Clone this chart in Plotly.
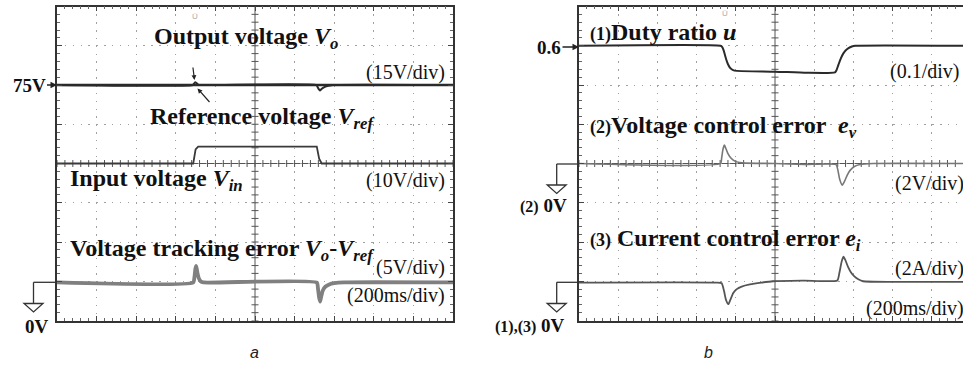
import numpy as np
import plotly.graph_objects as go

W, H = 963, 365

# ---------------- Panel a (time in ms, 200 ms/div) ----------------
t_vo = [0, 686, 692, 698, 704, 712, 720, 1310, 1316, 1322, 1328, 1336, 1348, 1365, 1394, 2000]
vo = [75, 75, 75.5, 76.1, 75.8, 75.2, 75, 75, 74.2, 73.4, 72.9, 73.5, 74.1, 74.6, 75, 75]
t_vref = [0, 2000]
vref = [75, 75]
t_vin = [0, 688, 700, 713, 1312, 1324, 1337, 2000]
vin = [40, 40, 43.6, 44.3, 44.3, 41.2, 40, 40]
t_err = [0, 688, 694, 699, 703, 709, 716, 725, 740, 1312, 1318, 1324, 1329, 1334, 1342, 1355, 1375, 1400, 1450, 2000]
err = [-0.15, -0.15, 0.5, 1.6, 1.95, 1.1, 0.4, 0.0, -0.15, -0.15, -0.9, -2.1, -2.6, -2.0, -1.2, -0.7, -0.4, -0.25, -0.15, -0.15]

# ---------------- Panel b ----------------
t_duty = [0, 722, 730, 738, 746, 754, 762, 772, 786, 805, 1000, 1162, 1306, 1314, 1324, 1336, 1348, 1360, 1375, 1392, 1410, 1960]
duty = [0.600, 0.600, 0.597, 0.588, 0.574, 0.561, 0.551, 0.543, 0.538, 0.536, 0.534, 0.531, 0.532, 0.538, 0.552, 0.568, 0.580, 0.588, 0.594, 0.598, 0.600, 0.600]
t_ve = [0, 722, 728, 735, 742, 750, 760, 775, 795, 820, 850, 1000, 1150, 1312, 1320, 1330, 1343, 1355, 1368, 1383, 1405, 1434, 1500, 1960]
ve = [0, 0, 0.3, 0.75, 0.94, 0.75, 0.5, 0.28, 0.12, 0.05, 0.02, 0, -0.05, -0.06, -0.3, -0.8, -1.1, -0.9, -0.6, -0.35, -0.15, -0.05, 0, 0]
t_ei = [0, 700, 728, 740, 750, 762, 772, 787, 805, 830, 872, 930, 990, 1150, 1318, 1328, 1340, 1349, 1358, 1372, 1388, 1405, 1425, 1449, 1600, 1960]
ei = [-0.07, -0.07, -0.1, -0.5, -0.95, -1.17, -0.95, -0.6, -0.4, -0.27, -0.16, -0.07, 0.0, 0.03, 0.04, 0.4, 1.0, 1.25, 1.1, 0.75, 0.45, 0.25, 0.1, 0.0, -0.03, -0.03]

DIV_T = 200   # ms per division
LINE = '#2a2a2a'

fig = go.Figure()


def trace(tx, ty, xa, ya, color, width, shape='spline'):
    fig.add_trace(go.Scatter(
        x=tx, y=ty, xaxis=xa, yaxis=ya, mode='lines',
        line=dict(color=color, width=width, shape=shape,
                  smoothing=0.5 if shape == 'spline' else None),
        hoverinfo='skip', showlegend=False))


# reticle center-line tick marks (decoration on the grid axes)
def center_ticks(xa, ya, xmax):
    tx = np.arange(0, xmax + 1e-6, DIV_T / 5)
    fig.add_trace(go.Scatter(x=tx, y=[4] * len(tx), xaxis=xa, yaxis=ya, mode='markers',
                             marker=dict(symbol='line-ns', size=5, line=dict(color='#555', width=1)),
                             hoverinfo='skip', showlegend=False))
    ty = np.arange(0, 8 + 1e-6, 0.2)
    fig.add_trace(go.Scatter(x=[1000] * len(ty), y=ty, xaxis=xa, yaxis=ya, mode='markers',
                             marker=dict(symbol='line-ew', size=5, line=dict(color='#555', width=1)),
                             hoverinfo='skip', showlegend=False))


center_ticks('x', 'y', 2000)
center_ticks('x2', 'y5', 1959.2)

# panel a traces
trace(t_vin, vin, 'x', 'y3', '#3a3a3a', 1.8, 'linear')
trace(t_err, err, 'x', 'y4', '#808080', 3.8)
trace(t_vref, vref, 'x', 'y2', LINE, 2.6, 'linear')
trace(t_vo, vo, 'x', 'y2', LINE, 2.0)
# panel b traces
trace(t_duty, duty, 'x2', 'y6', LINE, 2.0)
trace(t_ve, ve, 'x2', 'y7', '#777777', 1.6)
trace(t_ei, ei, 'x2', 'y8', '#555555', 1.8)

# ---------------- axes ----------------
ydom = [1 - 320.5 / H, 1 - 6.5 / H]
base = dict(showgrid=True, gridcolor='#a0a0a0', gridwidth=1, griddash='1.5px,6.35px',
            zeroline=False, showticklabels=False, ticks='inside', ticklen=5,
            tickcolor='#444', tickwidth=1, showline=True, linecolor='#333', linewidth=1.5)
xkw = dict(base, dtick=DIV_T, tick0=0,
           minor=dict(ticks='inside', ticklen=3, tickcolor='#666', dtick=DIV_T / 5, showgrid=False))
ykw = dict(base, dtick=1, tick0=0,
           minor=dict(ticks='inside', ticklen=3, tickcolor='#666', dtick=0.2, showgrid=False))

fig.update_layout(
    xaxis=dict(xkw, domain=[57 / W, 453 / W], range=[0, 2000], anchor='y', mirror='ticks'),
    yaxis=dict(ykw, domain=ydom, range=[0, 8], anchor='x', mirror='ticks'),
    yaxis2=dict(overlaying='y', anchor='x', range=[75 - 6 * 15, 75 + 2 * 15], visible=False),
    yaxis3=dict(overlaying='y', anchor='x', range=[0, 80], visible=False),
    yaxis4=dict(overlaying='y', anchor='x', range=[-5, 35], visible=False),
    xaxis2=dict(xkw, domain=[579 / W, 1.0], range=[0, 1959.2], anchor='y5', mirror='ticks'),
    yaxis5=dict(ykw, domain=ydom, range=[0, 8], anchor='x2', mirror=False),
    yaxis6=dict(overlaying='y5', anchor='x2', range=[-0.1, 0.7], visible=False),
    yaxis7=dict(overlaying='y5', anchor='x2', range=[-8, 8], visible=False),
    yaxis8=dict(overlaying='y5', anchor='x2', range=[-2, 14], visible=False),
)

# ---------------- shapes: center lines & ground symbols ----------------
shapes = []
for xr, yr, xmax in [('x', 'y', 2000), ('x2', 'y5', 1959.2)]:
    shapes.append(dict(type='line', xref=xr, yref=yr, x0=1000, x1=1000, y0=0, y1=8,
                       line=dict(color='#555', width=1), layer='below'))
    shapes.append(dict(type='line', xref=xr, yref=yr, x0=0, x1=xmax, y0=4, y1=4,
                       line=dict(color='#555', width=1), layer='below'))


def px(x):
    return x / W


def py(y):
    return 1 - y / H


def ground(xv, yline, xend, ytri):
    s = []
    s.append(dict(type='line', xref='paper', yref='paper', x0=px(xv), x1=px(xend), y0=py(yline), y1=py(yline),
                  line=dict(color='#333', width=1.3)))
    s.append(dict(type='line', xref='paper', yref='paper', x0=px(xv), x1=px(xv), y0=py(yline), y1=py(ytri),
                  line=dict(color='#333', width=1.3)))
    path = 'M {} {} L {} {} L {} {} Z'.format(px(xv - 9.5), py(ytri), px(xv + 9.5), py(ytri), px(xv), py(ytri + 8.5))
    s.append(dict(type='path', xref='paper', yref='paper', path=path, line=dict(color='#333', width=1.3),
                  fillcolor='white'))
    return s


shapes += ground(33.5, 282.3, 57, 303.5)
shapes += ground(556.7, 164, 579, 185)
shapes += ground(556.7, 282.3, 579, 303.5)
fig.update_layout(shapes=shapes)

# ---------------- annotations ----------------
SERIF = 'Liberation Serif'
ann = []


def text(x, y, s, size=24, xanchor='left', family=SERIF, color='#111'):
    ann.append(dict(x=px(x), y=py(y), xref='paper', yref='paper', text=s, showarrow=False,
                    xanchor=xanchor, yanchor='middle', font=dict(family=family, size=size, color=color)))


def arrow(xh, yh, ax, ay, s='', size=18, width=1.3, head=2, hs=1.0):
    ann.append(dict(x=px(xh), y=py(yh), xref='paper', yref='paper', text=s, showarrow=True,
                    ax=ax, ay=ay, arrowhead=head, arrowsize=hs, arrowwidth=width, arrowcolor='#222',
                    font=dict(family=SERIF, size=size, color='#111')))


# panel a
text(246, 38, '<b>Output voltage <i>V</i><sub><i>o</i></sub></b>', xanchor='center')
text(262, 118, '<b>Reference voltage <i>V</i><sub><i>ref</i></sub></b>', xanchor='center')
text(68, 180, '<b>Input voltage <i>V</i><sub><i>in</i></sub></b>')
text(68, 250, '<b>Voltage tracking error <i>V</i><sub><i>o</i></sub>-<i>V</i><sub><i>ref</i></sub></b>')
text(447, 73, '(15V/div)', size=20, xanchor='right')
text(447, 180, '(10V/div)', size=20, xanchor='right')
text(447, 267, '(5V/div)', size=20, xanchor='right')
text(447, 295, '(200ms/div)', size=20, xanchor='right')
text(37, 326, '<b>0V</b>', size=19, xanchor='center')
text(255, 352, '<i>a</i>', size=16, xanchor='center', family='Liberation Sans', color='#222')
text(195, 16, 'Ü', size=8, xanchor='center', family='Liberation Sans', color='#aaa')
arrow(57, 85, -28, 0, '<b>75V</b>', size=19)
arrow(194.5, 80, -3, -24, ' ', width=1.2, head=2, hs=0.8)
arrow(197.5, 88.5, 16, 18, ' ', width=1.2, head=2, hs=0.8)

# panel b
text(588, 32, "<b><span style='font-size:18px'>(1)</span>Duty ratio <i>u</i></b>")
text(588, 127, "<b><span style='font-size:18px'>(2)</span>Voltage control error  <i>e</i><sub><i>v</i></sub></b>")
text(588, 240, "<b><span style='font-size:18px'>(3)</span> Current control error <i>e</i><sub><i>i</i></sub></b>")
text(961, 72, '(0.1/div)', size=20, xanchor='right')
text(966, 183, '(2V/div)', size=20, xanchor='right')
text(966, 268, '(2A/div)', size=20, xanchor='right')
text(966, 308, '(200ms/div)', size=20, xanchor='right')
text(543, 205, "<b><span style='font-size:16px'>(2)</span> 0V</b>", size=19, xanchor='center')
text(530, 325, "<b><span style='font-size:16px'>(1),(3)</span> 0V</b>", size=19, xanchor='center')
text(708, 352, '<i>b</i>', size=16, xanchor='center', family='Liberation Sans', color='#222')
text(725, 14, 'Ü', size=8, xanchor='center', family='Liberation Sans', color='#aaa')
arrow(579, 47, -30, 0, '<b>0.6</b>', size=19)

fig.update_layout(annotations=ann, width=W, height=H, margin=dict(l=0, r=0, t=0, b=0),
                  paper_bgcolor='white', plot_bgcolor='white', showlegend=False)

fig.write_html('out.html', config={'displayModeBar': False},
               post_script="document.body.style.margin='0px';document.body.style.overflow='hidden';")
